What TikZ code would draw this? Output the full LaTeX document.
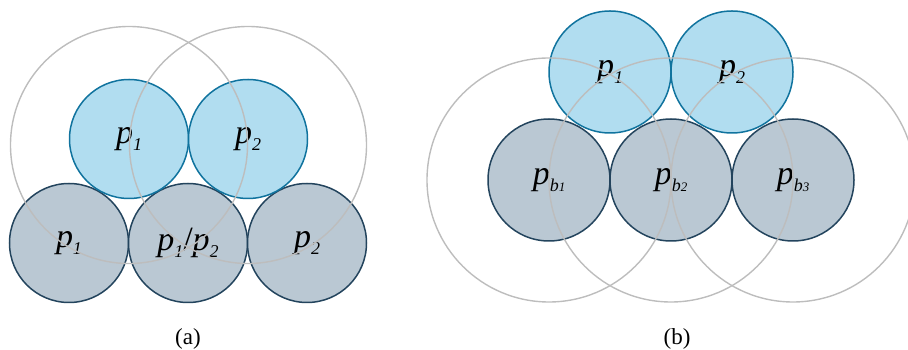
\documentclass[tikz,border=0pt]{standalone}
\usepackage{fontspec}
\setmainfont{Liberation Serif}
\usepackage{xcolor}
\definecolor{topfill}{HTML}{B1DDF0}
\definecolor{topstroke}{HTML}{10739E}
\definecolor{basefill}{HTML}{BAC8D3}
\definecolor{basestroke}{HTML}{23445D}
\definecolor{reachline}{HTML}{BDBDBD}
\usepackage{tikz}
\usetikzlibrary{positioning}

% p with an italic subscript
\newcommand{\plbl}[1]{\textit{p}\raisebox{-0.2em}{\fontsize{18}{18}\selectfont\textit{#1}}}
\newcommand{\pblbl}[1]{\textit{p}\raisebox{-0.2em}{\fontsize{18}{18}\selectfont\textit{b}\fontsize{13}{13}\selectfont\textit{#1}}}

\begin{document}
\begin{tikzpicture}[
  x=1pt, y=1pt,
  node distance=0pt,
  top/.style={circle, draw=topstroke, fill=topfill, line width=1.5pt, inner sep=0pt, outer sep=0pt, minimum size=119pt, font=\fontsize{34}{36}\selectfont},
  base/.style={circle, draw=basestroke, fill=basefill, line width=1.5pt, inner sep=0pt, outer sep=0pt, minimum size=119pt, font=\fontsize{34}{36}\selectfont},
  reach/.style={circle, draw=reachline, line width=1.4pt, inner sep=0pt, outer sep=0pt, minimum size=#1},
  caption/.style={font=\fontsize{23}{25}\selectfont}
]
\useasboundingbox (0,0) rectangle (908,350);
\clip (0,0) rectangle (908,350);

% (a)
\node[base] (a1) at (69,107) {\plbl{1}};
\node[base, right=of a1] (a2) {\plbl{1}/\plbl{2}};
\node[base, right=of a2] (a3) {\plbl{2}};
\node[top] (ap1) at (129,211) {\plbl{1}};
\node[top, right=of ap1] (ap2) {\plbl{2}};
\node[reach=237pt] (ar1) at (129,205) {};
\node[reach=237pt] (ar2) at (248,205) {};
\node[caption] (capa) at (188,11) {(a)};

% (b)
\node[base, minimum size=122pt] (b1) at (549,170) {\pblbl{1}};
\node[base, minimum size=122pt, right=of b1] (b2) {\pblbl{2}};
\node[base, minimum size=122pt, right=of b2] (b3) {\pblbl{3}};
\node[top, minimum size=122pt] (bp1) at (610,278) {\plbl{1}};
\node[top, minimum size=122pt, right=of bp1] (bp2) {\plbl{2}};
\node[reach=244pt] (br1) at (b1) {};
\node[reach=244pt] (br2) at (b2) {};
\node[reach=244pt] (br3) at (b3) {};
\node[caption] (capb) at (677,11) {(b)};
\end{tikzpicture}
\end{document}
